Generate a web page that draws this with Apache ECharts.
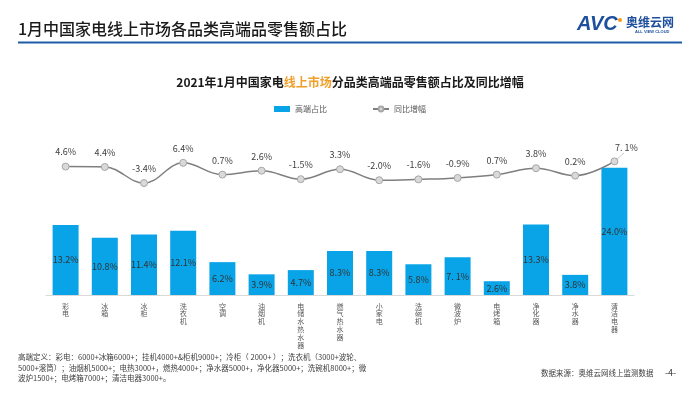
<!DOCTYPE html>
<html><head><meta charset="utf-8">
<script src="https://cdn.jsdelivr.net/npm/echarts@6/dist/echarts.min.js"></script>
<style>html,body{margin:0;padding:0;background:#fff}#c{width:700px;height:394px}</style>
</head><body><div id="c"></div>
<script>
const categories = ['彩电','冰箱','冰柜','洗衣机','空调','油烟机','电储水热水器','燃气热水器','小家电','洗碗机','微波炉','电烤箱','净化器','净水器','清洁电器'];
const shareValues = [13.2,10.8,11.4,12.1,6.2,3.9,4.7,8.3,8.3,5.8,7.1,2.6,13.3,3.8,24.0];
const yoyValues = [4.6,4.4,-3.4,6.4,0.7,2.6,-1.5,3.3,-2.0,-1.6,-0.9,0.7,3.8,0.2,7.1];
const seriesNames = ['高端占比','同比增幅'];
const mainTitle = '1月中国家电线上市场各品类高端品零售额占比';
const footLines = [
 '高端定义：彩电：6000+冰箱6000+；挂机4000+&柜机9000+；冷柜（ 2000+ ）；洗衣机（3000+波轮、',
 '5000+滚筒）；油烟机5000+；电热3000+，燃热4000+；净水器5000+，净化器5000+；洗碗机8000+；微',
 '波炉1500+；电烤箱7000+；清洁电器3000+。'
];
const sourceText = '数据来源：奥维云网线上监测数据';

const fmt = v => (v === 7.1 ? '7. 1' : v.toFixed(1)) + '%';
const FONT = '"Noto Sans CJK SC","Noto Sans",sans-serif';

const chart = echarts.init(document.getElementById('c'));
chart.setOption({
  animation:false,
  textStyle:{fontFamily:FONT},
  title:{
    text:'{a|2021年1月中国家电}{b|线上市场}{a|分品类高端品零售额占比及同比增幅}',
    left:'center', top:71,
    textStyle:{rich:{
      a:{fontSize:12,fontWeight:'bold',color:'#1a1a1a',fontFamily:FONT},
      b:{fontSize:12,fontWeight:'bold',color:'#f0a02a',fontFamily:FONT}
    }}
  },
  legend:{
    top:100, left:'center', itemGap:45, itemWidth:16, itemHeight:6,
    textStyle:{fontSize:8,color:'#595959'},
    data:[{name:seriesNames[0],icon:'rect'},{name:seriesNames[1]}]
  },
  grid:{left:46, right:66, top:136, bottom:99},
  xAxis:{
    type:'category', data:categories,
    axisLine:{lineStyle:{color:'#d9d9d9',width:1}},
    axisTick:{show:false},
    axisLabel:{interval:0,fontSize:7,color:'#595959',lineHeight:7.8,margin:7,
      formatter:v=>v.split('').join('\n')}
  },
  yAxis:[
    {type:'value',min:0,max:30,show:false,splitLine:{show:false}},
    {type:'value',min:-57.6,max:19.4,show:false,splitLine:{show:false}}
  ],
  series:[
    {name:seriesNames[0],type:'bar',data:shareValues,barWidth:26,yAxisIndex:0,
     itemStyle:{color:'#09a4e8'},
     label:{show:true,position:'inside',fontSize:9,color:'#333',formatter:p=>fmt(p.value)}},
    {name:seriesNames[1],type:'line',data:yoyValues.map((v,i)=>i===yoyValues.length-1?{value:v,label:{offset:[12,1]}}:v),
     yAxisIndex:1,smooth:0.4,symbol:'circle',symbolSize:7,
     lineStyle:{color:'#7f7f7f',width:1.5},
     itemStyle:{color:'#d9d9d9',borderColor:'#a6a6a6',borderWidth:1},
     label:{show:true,position:'top',distance:6,fontSize:9,color:'#404040',formatter:p=>fmt(p.value)}}
  ],
  graphic:[
    {type:'text',left:18,top:21,style:{text:mainTitle,font:'500 16px '+FONT,fill:'#1a1a1a'}},
    {type:'rect',shape:{x:18,y:41.5,width:664,height:2},style:{fill:'#1f5da8'}},
    {type:'text',left:577,top:14,style:{text:'AVC',font:'italic bold 20px "Liberation Sans",Arial,sans-serif',fill:'#1e4f9c'}},
    {type:'circle',shape:{cx:620,cy:20,r:2},style:{fill:'#f39c12'}},
    {type:'text',left:626,top:16,style:{text:'奥维云网',font:'bold 12px '+FONT,fill:'#1e4f9c'}},
    {type:'text',left:635,top:30,style:{text:'ALL VIEW CLOUD',font:'bold 4px "Liberation Sans",sans-serif',fill:'#1e4f9c'}},
    {type:'text',left:18,top:352,style:{text:footLines.join('\n'),font:'7.5px '+FONT,fill:'#404040',lineHeight:10.5}},
    {type:'text',left:541,top:369,style:{text:sourceText,font:'7.5px '+FONT,fill:'#404040'}},
    {type:'text',left:665,top:368,style:{text:'-4-',font:'9px '+FONT,fill:'#404040'}},
    {type:'line',shape:{x1:617,y1:159,x2:624,y2:153},style:{stroke:'#bfbfbf',lineWidth:0.8}}
  ]
});
</script></body></html>
